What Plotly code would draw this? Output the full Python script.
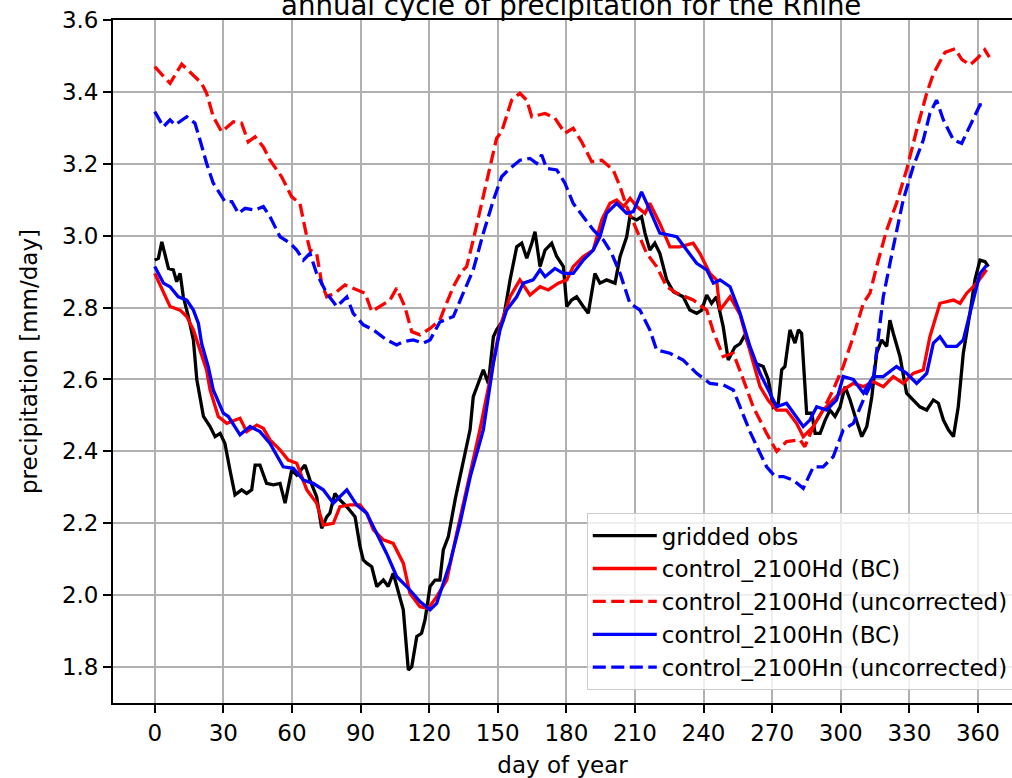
import plotly.graph_objects as go

# ---------------- data ----------------
obs_days = [0, 1.6, 3.1, 4.5, 6.0, 8.1, 9.6, 11.1, 12.5, 14.7, 16.9, 18.4, 21.3, 24.2, 26.4, 28.6,
            30.7, 32.9, 35.1, 38.0, 40.2, 42.4, 43.9, 46.0, 48.9, 51.9, 54.8, 57.0, 59.9, 62.1,
            65.7, 67.9, 70.8, 73.0, 75.2, 76.6, 78.8, 81.0, 84.0, 87.6, 89.8, 91.2, 92.7, 94.9,
            97.1, 100.0, 102.1, 104.3, 106.5, 108.7, 110.9, 112.4, 114.6, 116.7, 118.2, 120.4,
            122.6, 124.7, 126.2, 128.4, 131.5, 134.5, 136.5, 137.9, 139.3, 141.5, 143.7, 145.9,
            148.1, 149.5, 152.4, 155.4, 158.3, 160.5, 162.7, 164.9, 166.3, 168.5, 170.7, 173.6,
            175.8, 178.7, 180.2, 182.3, 184.5, 187.4, 189.6, 192.5, 194.7, 197.6, 201.3, 203.5,
            206.4, 207.8, 210.8, 212.9, 214.4, 216.5, 218.7, 220.9, 223.9, 226.8, 231.1, 234.0,
            237.0, 239.2, 241.4, 243.5, 245.7, 248.6, 250.8, 253.7, 256.0, 258.1, 260.3, 262.5,
            266.1, 268.3, 270.5, 272.7, 274.2, 275.6, 277.8, 280.0, 281.5, 282.9, 285.1, 287.3,
            288.8, 291.0, 293.2, 295.3, 297.5, 299.7, 301.9, 304.1, 306.3, 307.7, 309.2, 311.4,
            313.6, 315.7, 317.9, 320.1, 321.5, 323.0, 325.9, 328.8, 331.7, 334.6, 337.6, 340.5,
            342.7, 344.9, 347.1, 349.3, 351.4, 353.6, 356.5, 358.7, 360.9, 363.1, 364.6]
obs_vals = [2.932, 2.937, 2.983, 2.951, 2.909, 2.905, 2.872, 2.895, 2.83, 2.775, 2.71, 2.60, 2.497,
            2.469, 2.441, 2.45, 2.422, 2.348, 2.279, 2.293, 2.283, 2.293, 2.362, 2.362, 2.311,
            2.307, 2.311, 2.256, 2.348, 2.334, 2.362, 2.32, 2.274, 2.186, 2.218, 2.228, 2.283,
            2.265, 2.246, 2.218, 2.135, 2.098, 2.089, 2.079, 2.024, 2.042, 2.024, 2.061, 2.014,
            1.959, 1.792, 1.801, 1.885, 1.894, 1.931, 2.024, 2.042, 2.042, 2.126, 2.163, 2.27,
            2.36, 2.42, 2.46, 2.552, 2.589, 2.627, 2.589, 2.719, 2.738, 2.765, 2.877, 2.969,
            2.979, 2.937, 2.979, 3.011, 2.914, 2.96, 2.979, 2.942, 2.914, 2.803, 2.821, 2.83,
            2.803, 2.784, 2.895, 2.868, 2.877, 2.868, 2.942, 2.997, 3.053, 3.044, 3.053, 3.007,
            2.96, 2.979, 2.951, 2.877, 2.844, 2.83, 2.793, 2.784, 2.793, 2.835, 2.812, 2.83,
            2.747, 2.654, 2.69, 2.70, 2.724, 2.682, 2.645, 2.636, 2.6, 2.524, 2.534, 2.627,
            2.636, 2.738, 2.701, 2.738, 2.728, 2.506, 2.506, 2.45, 2.45, 2.487, 2.515, 2.497,
            2.524, 2.58, 2.543, 2.497, 2.469, 2.441, 2.469, 2.552, 2.673, 2.71, 2.692, 2.765,
            2.728, 2.664, 2.562, 2.543, 2.524, 2.515, 2.543, 2.534, 2.487, 2.46, 2.441, 2.524,
            2.673, 2.784, 2.877, 2.932, 2.928, 2.914]

hd_bc_days = [0, 3.8, 6.7, 11.1, 14.0, 16.9, 19.8, 22.7, 24.2, 27.8, 31.5, 37.3, 40.2, 44.6, 47.5,
              50.4, 54.8, 58.4, 62.1, 66.5, 70.8, 73.7, 78.1, 81.0, 85.4, 89.8, 92.7, 95.6, 100.0,
              104.3, 108.7, 111.6, 116.0, 119.6, 123.3, 127.7, 132.0, 137.0, 142.2, 146.6, 151.0,
              155.4, 159.7, 164.1, 168.5, 172.1, 176.5, 180.2, 183.0, 187.4, 191.8, 195.5, 199.1,
              202.0, 205.0, 207.9, 210.8, 214.4, 216.5, 220.9, 225.3, 229.6, 235.5, 238.4, 242.8,
              245.7, 247.2, 251.6, 256.0, 260.3, 264.7, 268.5, 272.0, 276.3, 280.7, 283.6, 288.0,
              292.3, 296.7, 301.1, 305.5, 309.9, 314.2, 318.6, 323.0, 327.3, 331.7, 336.1, 339.0,
              343.4, 349.3, 352.2, 355.1, 359.5, 363.8]
hd_bc_vals = [2.895, 2.84, 2.803, 2.793, 2.775, 2.738, 2.682, 2.626, 2.571, 2.497, 2.478, 2.492,
              2.455, 2.473, 2.464, 2.432, 2.404, 2.376, 2.367, 2.293, 2.256, 2.195, 2.2, 2.246,
              2.251, 2.251, 2.228, 2.182, 2.154, 2.144, 2.089, 2.005, 1.968, 1.963, 1.996, 2.042,
              2.17, 2.31, 2.46, 2.599, 2.747, 2.83, 2.877, 2.835, 2.858, 2.849, 2.868, 2.877,
              2.914, 2.942, 2.96, 3.044, 3.09, 3.099, 3.081, 3.104, 3.081, 3.062, 3.09, 3.034,
              2.969, 2.969, 2.979, 2.951, 2.895, 2.877, 2.793, 2.83, 2.78, 2.68, 2.58, 2.54,
              2.515, 2.515, 2.478, 2.441, 2.469, 2.515, 2.543, 2.571, 2.589, 2.58, 2.594, 2.58,
              2.608, 2.589, 2.617, 2.627, 2.719, 2.812, 2.821, 2.812, 2.84, 2.868, 2.905]

hd_unc_days = [0, 6.7, 11.8, 18.4, 20.5, 22.7, 25.6, 29.3, 34.4, 38.0, 40.9, 43.9, 47.5, 50.4,
               55.5, 59.9, 63.5, 66.5, 67.9, 70.8, 73.0, 75.2, 78.8, 83.2, 89.0, 92.0, 94.9, 99.3,
               102.9, 105.8, 109.4, 112.4, 116.0, 120.4, 124.7, 126.2, 130.6, 134.2, 136.4, 139.3,
               143.7, 147.4, 149.5, 151.7, 156.1, 159.7, 162.7, 164.9, 167.7, 170.7, 175.0, 179.4,
               183.0, 186.7, 191.1, 195.5, 200.5, 203.5, 206.4, 210.8, 215.1, 219.5, 223.9, 228.3,
               235.5, 241.4, 244.3, 248.6, 253.0, 257.4, 261.7, 267.6, 272.0, 276.3, 282.2, 284.3,
               288.0, 292.3, 296.7, 301.1, 305.5, 309.9, 312.8, 315.7, 320.1, 324.4, 328.8, 333.2,
               337.6, 340.5, 345.6, 350.0, 353.0, 356.6, 360.0, 363.0, 365.0]
hd_unc_vals = [3.47, 3.424, 3.477, 3.438, 3.424, 3.396, 3.331, 3.289, 3.317, 3.313, 3.261, 3.275,
               3.247, 3.21, 3.164, 3.108, 3.09, 2.997, 2.96, 2.951, 2.868, 2.83, 2.84, 2.863,
               2.849, 2.84, 2.789, 2.807, 2.821, 2.854, 2.802, 2.733, 2.724, 2.742, 2.765, 2.79,
               2.858, 2.9, 2.914, 2.988, 3.108, 3.21, 3.271, 3.289, 3.377, 3.396, 3.377, 3.331,
               3.336, 3.34, 3.327, 3.285, 3.299, 3.261, 3.206, 3.21, 3.183, 3.136, 3.081, 3.016,
               2.951, 2.914, 2.858, 2.84, 2.821, 2.793, 2.733, 2.664, 2.673, 2.6, 2.524, 2.45,
               2.4, 2.427, 2.432, 2.413, 2.469, 2.515, 2.571, 2.636, 2.719, 2.812, 2.84, 2.914,
               3.016, 3.09, 3.183, 3.294, 3.396, 3.45, 3.51, 3.52, 3.49, 3.475, 3.495, 3.517, 3.497]

hn_bc_days = [0, 3.8, 6.7, 10.3, 14.0, 16.9, 19.1, 20.5, 23.4, 25.6, 30.0, 32.2, 37.3, 41.7, 46.0,
              50.4, 56.2, 60.6, 65.0, 69.3, 73.7, 78.1, 84.0, 88.3, 92.7, 97.1, 101.4, 105.8, 110.2,
              116.0, 120.4, 123.3, 126.2, 129.1, 133.5, 138.0, 143.7, 148.1, 151.0, 153.9, 158.3,
              161.2, 165.5, 168.5, 170.7, 175.0, 178.7, 183.0, 187.4, 191.8, 194.7, 197.6, 202.0,
              206.4, 209.3, 212.9, 216.5, 220.9, 228.3, 232.6, 237.0, 241.4, 244.3, 247.2, 251.6,
              256.0, 260.3, 264.7, 269.1, 272.0, 276.3, 280.7, 283.6, 286.5, 289.5, 293.8, 298.2,
              301.1, 305.5, 309.9, 314.2, 318.6, 324.4, 328.8, 333.2, 337.6, 340.5, 343.4, 346.3,
              350.7, 353.6, 356.5, 360.9, 363.8]
hn_bc_vals = [2.914, 2.868, 2.858, 2.83, 2.821, 2.793, 2.756, 2.70, 2.636, 2.571, 2.506, 2.497,
              2.446, 2.469, 2.455, 2.422, 2.357, 2.353, 2.32, 2.311, 2.293, 2.256, 2.293, 2.251,
              2.228, 2.172, 2.116, 2.052, 2.024, 1.982, 1.959, 1.977, 2.033, 2.089, 2.2, 2.33,
              2.46, 2.645, 2.738, 2.793, 2.83, 2.868, 2.877, 2.905, 2.886, 2.909, 2.895, 2.895,
              2.932, 2.96, 2.997, 3.062, 3.09, 3.062, 3.067, 3.122, 3.071, 3.007, 2.997, 2.96,
              2.923, 2.905, 2.868, 2.877, 2.858, 2.784, 2.692, 2.617, 2.562, 2.524, 2.534, 2.497,
              2.469, 2.487, 2.524, 2.515, 2.543, 2.608, 2.6, 2.562, 2.608, 2.608, 2.636, 2.617,
              2.589, 2.617, 2.701, 2.719, 2.692, 2.692, 2.71, 2.784, 2.895, 2.918]

hn_unc_days = [0, 3.8, 6.7, 8.9, 14.0, 17.6, 19.8, 22.7, 25.6, 30.7, 33.7, 36.6, 39.5, 43.9, 47.5,
               50.4, 54.8, 59.2, 62.1, 65.0, 67.9, 70.8, 75.2, 79.6, 84.0, 86.8, 91.2, 95.6, 101.4,
               105.8, 108.7, 113.1, 117.4, 120.4, 124.7, 130.6, 134.9, 139.3, 143.7, 148.1, 151.7,
               154.6, 159.7, 164.1, 167.0, 169.2, 171.4, 175.8, 179.4, 183.0, 187.4, 191.8, 196.2,
               199.8, 203.5, 207.8, 212.2, 216.5, 219.5, 225.3, 231.1, 237.0, 242.8, 248.6, 253.0,
               256.0, 260.3, 264.7, 267.6, 271.3, 274.9, 279.2, 283.6, 288.0, 292.3, 296.7, 301.1,
               305.5, 309.9, 314.2, 318.6, 323.0, 327.3, 331.7, 336.1, 339.0, 341.9, 344.9, 349.3,
               352.9, 356.5, 360.9, 363.8]
hn_unc_vals = [3.345, 3.303, 3.322, 3.308, 3.331, 3.313, 3.266, 3.201, 3.146, 3.095, 3.095, 3.062,
               3.076, 3.071, 3.081, 3.053, 2.997, 2.979, 2.96, 2.932, 2.951, 2.895, 2.84, 2.803,
               2.83, 2.784, 2.752, 2.738, 2.71, 2.696, 2.705, 2.71, 2.701, 2.71, 2.76, 2.775,
               2.84, 2.905, 3.007, 3.099, 3.164, 3.183, 3.21, 3.215, 3.201, 3.225, 3.187, 3.183,
               3.146, 3.09, 3.053, 3.016, 2.988, 2.951, 2.895, 2.812, 2.793, 2.738, 2.682, 2.673,
               2.654, 2.617, 2.589, 2.585, 2.571, 2.524, 2.455, 2.395, 2.357, 2.33, 2.33, 2.32,
               2.297, 2.357, 2.357, 2.385, 2.46, 2.478, 2.543, 2.6, 2.83, 2.969, 3.099, 3.192,
               3.266, 3.34, 3.377, 3.322, 3.266, 3.257, 3.303, 3.364, 3.361]

x_ticks = [0, 30, 60, 90, 120, 150, 180, 210, 240, 270, 300, 330, 360]
y_ticks = [1.8, 2.0, 2.2, 2.4, 2.6, 2.8, 3.0, 3.2, 3.4, 3.6]

series = [
    ("gridded obs", obs_days, obs_vals, "#000000", "solid"),
    ("control_2100Hd (BC)", hd_bc_days, hd_bc_vals, "#ff0000", "solid"),
    ("control_2100Hd (uncorrected)", hd_unc_days, hd_unc_vals, "#ff0000", "13px,5.5px"),
    ("control_2100Hn (BC)", hn_bc_days, hn_bc_vals, "#0000ff", "solid"),
    ("control_2100Hn (uncorrected)", hn_unc_days, hn_unc_vals, "#0000ff", "13px,5.5px"),
]

FONT = "DejaVu Sans"
fig = go.Figure()
for i, (name, xs, ys, col, dash) in enumerate(series):
    fig.add_trace(go.Scatter(x=xs, y=ys, mode="lines", name=name, legendgroup=f"g{i}",
                             line=dict(color=col, width=3.3, dash=dash)))

axis_common = dict(showgrid=True, gridcolor="#b0b0b0", gridwidth=1.8, zeroline=False,
                   showline=True, linecolor="#000000", linewidth=1.8,
                   ticks="outside", ticklen=8, tickwidth=1.8, tickcolor="#000000",
                   tickfont=dict(family=FONT, size=23, color="#000000"))

fig.update_layout(
    width=1012, height=778,
    margin=dict(l=113, r=0, t=20, b=75, autoexpand=False),
    paper_bgcolor="white", plot_bgcolor="white",
    font=dict(family=FONT, size=23, color="#000000"),
    xaxis=dict(range=[-18.25, 374.9], tickmode="array", tickvals=x_ticks,
               ticktext=[str(t) for t in x_ticks], mirror=True,
               title=dict(text="day of year", font=dict(family=FONT, size=23), standoff=13),
               **axis_common),
    yaxis=dict(range=[1.7, 3.6], tickmode="array", tickvals=y_ticks,
               ticktext=[f"{t:.1f}" for t in y_ticks], mirror=False,
               title=dict(text="precipitation [mm/day]", font=dict(family=FONT, size=23), standoff=18),
               **axis_common),
    legend=dict(x=0.527, y=0.278, xanchor="left", yanchor="top",
                bgcolor="rgba(255,255,255,0.8)", bordercolor="#cccccc", borderwidth=1,
                font=dict(family=FONT, size=23, color="#000000"), itemwidth=64,
                tracegroupgap=5.3, traceorder="normal"),
    showlegend=True,
)

fig.add_annotation(text="annual cycle of precipitation for the Rhine", xref="paper", yref="paper",
                   x=0.5095, y=1, xanchor="center", yanchor="middle", yshift=15, showarrow=False,
                   font=dict(family=FONT, size=27.6, color="#000000"))

fig.write_html("out.html")
